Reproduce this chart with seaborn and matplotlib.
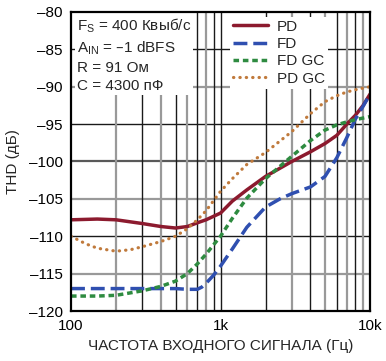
import matplotlib
matplotlib.use("Agg")
import matplotlib.pyplot as plt
import seaborn as sns

sns.set_theme(style="white")
plt.rcParams['font.family'] = ['Liberation Sans', 'DejaVu Sans']

# --- data ---
freq_pd = [100, 150, 200, 300, 400, 500, 600, 700, 800, 1000, 1200, 1500, 2000, 3000, 4000, 5000, 6000, 7000, 8000, 9000, 10000]
thd_pd = [-107.8, -107.7, -107.8, -108.3, -108.7, -108.9, -108.7, -108.2, -107.8, -106.9, -105.3, -103.8, -102.0, -100.0, -98.7, -97.6, -96.5, -95.0, -93.8, -92.5, -91.0]

freq_fd = [100, 200, 300, 400, 500, 600, 700, 750, 800, 900, 1000, 1200, 1500, 2000, 2500, 3000, 4000, 5000, 6000, 7000, 8000, 9000, 10000]
thd_fd = [-117.0, -117.0, -117.0, -117.0, -117.0, -117.1, -117.1, -116.8, -116.3, -115.2, -114.0, -111.7, -108.8, -106.1, -105.0, -104.3, -103.4, -102.0, -99.5, -96.8, -94.3, -92.6, -91.0]

freq_fdgc = [100, 150, 200, 300, 400, 500, 600, 700, 800, 1000, 1200, 1500, 2000, 3000, 4000, 5000, 6000, 7000, 8000, 10000]
thd_fdgc = [-118.0, -118.0, -117.9, -117.3, -116.7, -116.0, -115.0, -113.7, -112.4, -110.0, -107.6, -104.9, -102.3, -99.3, -97.2, -95.8, -95.1, -94.7, -94.4, -94.0]

freq_pdgc = [100, 125, 150, 200, 250, 300, 400, 500, 600, 700, 800, 1000, 1200, 1500, 2000, 3000, 4000, 5000, 6000, 7000, 8000, 10000]
thd_pdgc = [-110.0, -111.0, -111.6, -112.0, -111.8, -111.4, -110.7, -110.0, -109.0, -107.8, -106.6, -104.0, -102.3, -100.4, -98.8, -96.0, -93.6, -92.0, -91.2, -90.7, -90.4, -90.0]

y_ticks = [-80, -85, -90, -95, -100, -105, -110, -115, -120]
x_ticks = [100, 1000, 10000]
x_labels = ["100", "1k", "10k"]

fig = plt.figure(figsize=(3.86, 3.61), dpi=100)
ax = fig.add_axes([0.184, 0.1385, 0.7745, 0.8283])
ax.set_xscale("log")
ax.set_xlim(100, 10000)
ax.set_ylim(-120, -80)

# grid (mixed grey/black like the original print)
h_cols = {-85: 'k', -90: '0.6', -95: 'k', -100: '0.35', -105: '0.6', -110: 'k', -115: '0.6'}
for yv, c in h_cols.items():
    ax.axhline(yv, color=c, lw=1.0 if c == 'k' else 1.6, zorder=0)
v_lines = [200, 300, 400, 500, 600, 700, 800, 900, 1000,
           2000, 3000, 4000, 5000, 6000, 7000, 8000, 9000]
for i, xv in enumerate(v_lines):
    c = 'k' if (i % 2 == 1 or xv in (1000, 2000)) else '0.6'
    ax.axvline(xv, color=c, lw=1.0 if c == 'k' else 1.6, zorder=0)

# curves
sns.lineplot(x=freq_pd, y=thd_pd, ax=ax, color='#8c1a2e', lw=2.5, label='PD')
sns.lineplot(x=freq_fd, y=thd_fd, ax=ax, color='#2f4fb0', lw=2.5, label='FD')
sns.lineplot(x=freq_fdgc, y=thd_fdgc, ax=ax, color='#2e8b40', lw=2.5, label='FD GC')
sns.lineplot(x=freq_pdgc, y=thd_pdgc, ax=ax, color='#c07a3c', lw=2.5, label='PD GC')
lines = ax.get_lines()[-4:]
lines[1].set_dashes((4, 1.7))
lines[2].set_dashes((1.6, 1.1))
lines[3].set_dashes((0.1, 1.9))
lines[3].set_dash_capstyle('round')
lines[3].set_lw(2.3)
for ln in lines:
    ln.set_zorder(3)

leg = ax.legend(loc='upper left', bbox_to_anchor=(0.525, 0.99), fontsize=11,
                frameon=True, fancybox=False, framealpha=1, edgecolor='none',
                facecolor='white', handlelength=2.35, handletextpad=0.55,
                labelspacing=0.22, borderpad=0.2, borderaxespad=0.1)
leg.set_zorder(5)

ax.text(0.02, 0.985,
        "F$_\\mathregular{S}$ = 400 Квыб/с\nA$_\\mathregular{IN}$ = \u20131 dBFS\nR = 91 Ом\nC = 4300 пФ",
        transform=ax.transAxes, ha='left', va='top', fontsize=11, linespacing=1.35,
        bbox=dict(facecolor='white', edgecolor='none', pad=1.5), zorder=6)

ax.set_xticks(x_ticks)
ax.set_xticklabels(x_labels)
ax.xaxis.set_minor_locator(matplotlib.ticker.NullLocator())
ax.set_yticks(y_ticks)
ax.set_yticklabels([f"\u2013{abs(v)}" for v in y_ticks])
ax.tick_params(axis='both', length=0, labelsize=11, pad=6, colors='black')

for s in ax.spines.values():
    s.set_color('black')
    s.set_linewidth(1.6)
    s.set_zorder(7)

ax.set_xlabel("ЧАСТОТА ВХОДНОГО СИГНАЛА (Гц)", fontsize=11, labelpad=4)
ax.set_ylabel("THD (дБ)", fontsize=11, labelpad=6)

fig.savefig("out.png", dpi=100)
